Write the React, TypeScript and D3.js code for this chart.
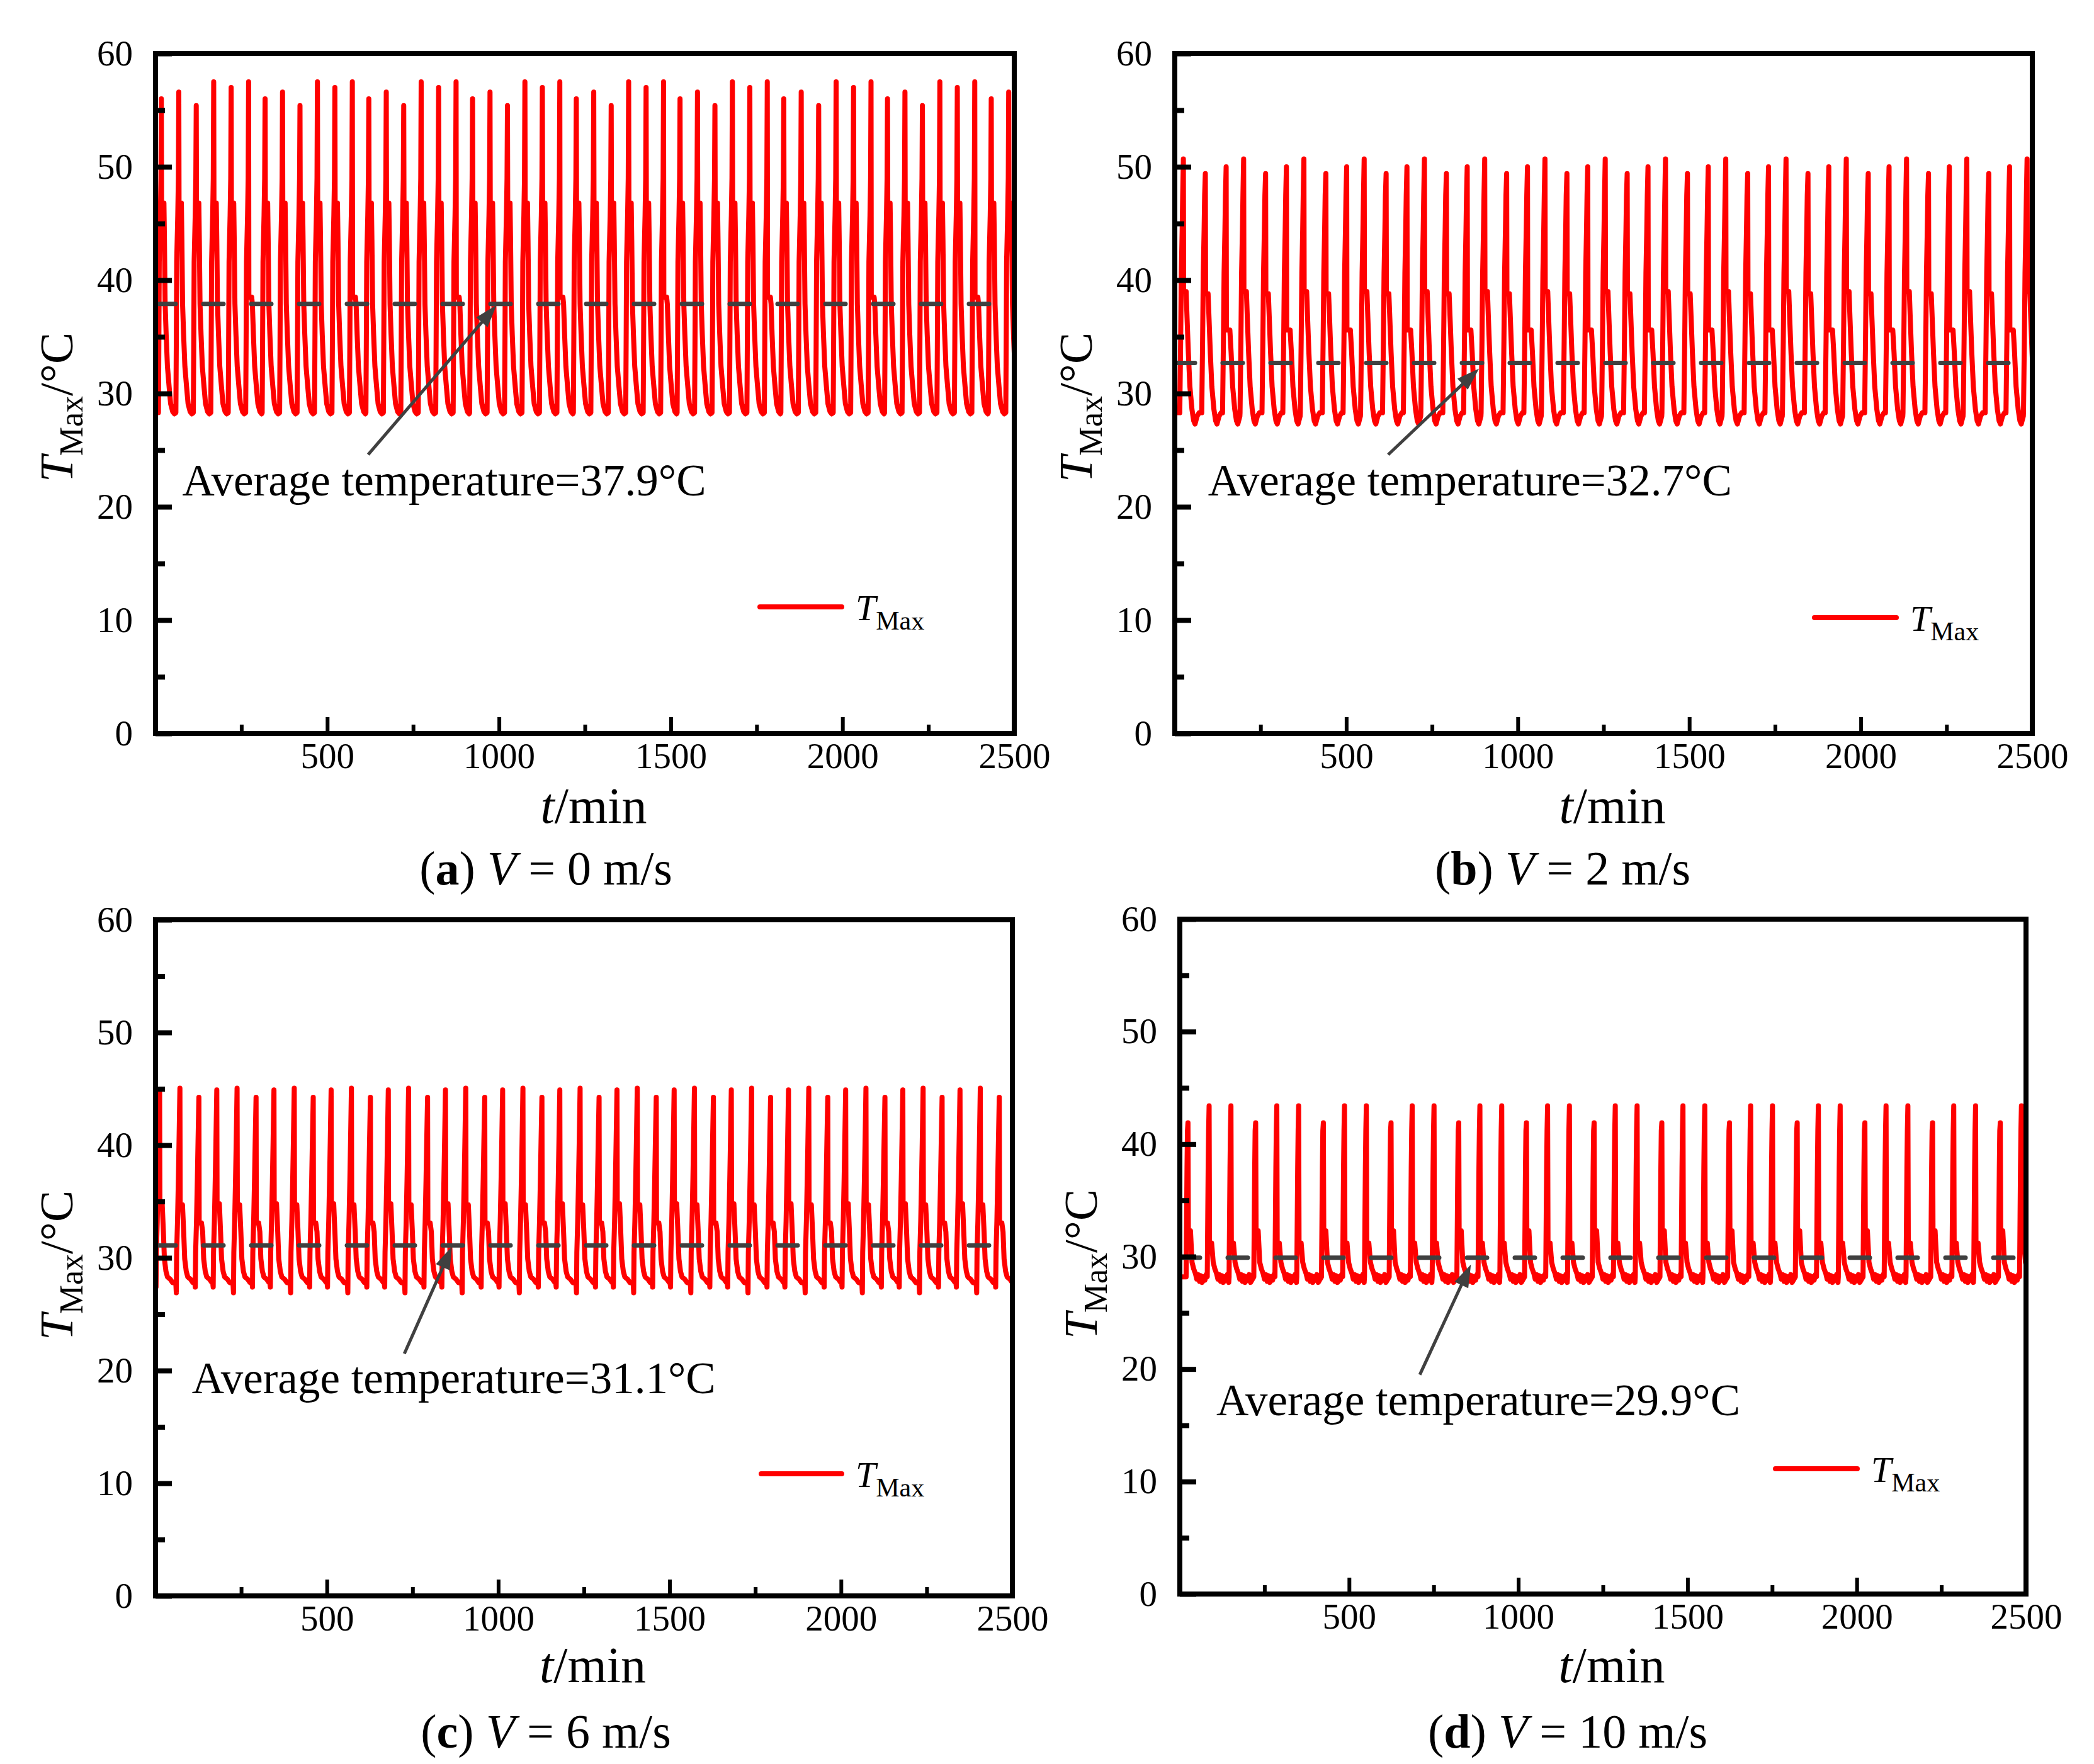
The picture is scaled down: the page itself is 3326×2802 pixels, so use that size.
import React, { useEffect, useRef } from "react";
import * as d3 from "d3";

const W = 3326;
const H = 2802;
const FONT = "'Liberation Serif', 'Times New Roman', serif";

// peak times (min) and peak / shoulder temperatures of every cycle
const timesA = [17, 67.8, 118.6, 169.4, 220.2, 271, 319, 369.8, 420.6, 471.4, 522.2, 573, 621, 671.8, 722.6, 773.4, 824.2, 875, 923, 973.8, 1024.6, 1075.4, 1126.2, 1177, 1225, 1275.8, 1326.6, 1377.4, 1428.2, 1479, 1527, 1577.8, 1628.6, 1679.4, 1730.2, 1781, 1829, 1879.8, 1930.6, 1981.4, 2032.2, 2083, 2131, 2181.8, 2232.6, 2283.4, 2334.2, 2385, 2433, 2483.8];
const peaksA = [
  56.0, 56.6, 55.4, 57.5, 57.0, 57.5, 56.0, 56.6, 55.4, 57.5, 57.0, 57.5,
  56.0, 56.6, 55.4, 57.5, 57.0, 57.5, 56.0, 56.6, 55.4, 57.5, 57.0, 57.5,
  56.0, 56.6, 55.4, 57.5, 57.0, 57.5, 56.0, 56.6, 55.4, 57.5, 57.0, 57.5,
  56.0, 56.6, 55.4, 57.5, 57.0, 57.5, 56.0, 56.6, 55.4, 57.5, 57.0, 57.5,
  56.0, 56.6,
];
const shouldersA = [
  46.8, 46.8, 46.8, 46.8, 46.8, 38.5, 46.8, 46.8, 46.8, 46.8, 46.8, 38.5,
  46.8, 46.8, 46.8, 46.8, 46.8, 38.5, 46.8, 46.8, 46.8, 46.8, 46.8, 38.5,
  46.8, 46.8, 46.8, 46.8, 46.8, 38.5, 46.8, 46.8, 46.8, 46.8, 46.8, 38.5,
  46.8, 46.8, 46.8, 46.8, 46.8, 38.5, 46.8, 46.8, 46.8, 46.8, 46.8, 38.5,
  46.8, 46.8,
];

const timesB = [25, 89, 149.7, 200.7, 264.7, 325.4, 376.4, 440.4, 501.1, 552.1, 616.1, 676.8, 727.8, 791.8, 852.5, 903.5, 967.5, 1028.2, 1079.2, 1143.2, 1203.9, 1254.9, 1318.9, 1379.6, 1430.6, 1494.6, 1555.3, 1606.3, 1670.3, 1731, 1782, 1846, 1906.7, 1957.7, 2021.7, 2082.4, 2133.4, 2197.4, 2258.1, 2309.1, 2373.1, 2433.8, 2484.8];
const peaksB = [
  50.7, 49.4, 50.0, 50.7, 49.4, 50.0, 50.7, 49.4, 50.0, 50.7, 49.4, 50.0,
  50.7, 49.4, 50.0, 50.7, 49.4, 50.0, 50.7, 49.4, 50.0, 50.7, 49.4, 50.0,
  50.7, 49.4, 50.0, 50.7, 49.4, 50.0, 50.7, 49.4, 50.0, 50.7, 49.4, 50.0,
  50.7, 49.4, 50.0, 50.7, 49.4, 50.0, 50.7,
];
const shouldersB = [
  39.0, 38.8, 35.6, 39.0, 38.8, 35.6, 39.0, 38.8, 35.6, 39.0, 38.8, 35.6,
  39.0, 38.8, 35.6, 39.0, 38.8, 35.6, 39.0, 38.8, 35.6, 39.0, 38.8, 35.6,
  39.0, 38.8, 35.6, 39.0, 38.8, 35.6, 39.0, 38.8, 35.6, 39.0, 38.8, 35.6,
  39.0, 38.8, 35.6, 39.0, 38.8, 35.6, 39.0,
];

const timesC = [12, 71.2, 126.6, 178.8, 238, 293.4, 345.6, 404.8, 460.2, 512.4, 571.6, 627, 679.2, 738.4, 793.8, 846, 905.2, 960.6, 1012.8, 1072, 1127.4, 1179.6, 1238.8, 1294.2, 1346.4, 1405.6, 1461, 1513.2, 1572.4, 1627.8, 1680, 1739.2, 1794.6, 1846.8, 1906, 1961.4, 2013.6, 2072.8, 2128.2, 2180.4, 2239.6, 2295, 2347.2, 2406.4, 2461.8];
const peaksC = [
  44.9, 45.05, 44.25, 44.9, 45.05, 44.25, 44.9, 45.05, 44.25, 44.9, 45.05, 44.25,
  44.9, 45.05, 44.25, 44.9, 45.05, 44.25, 44.9, 45.05, 44.25, 44.9, 45.05, 44.25,
  44.9, 45.05, 44.25, 44.9, 45.05, 44.25, 44.9, 45.05, 44.25, 44.9, 45.05, 44.25,
  44.9, 45.05, 44.25, 44.9, 45.05, 44.25, 44.9, 45.05, 44.25,
];
const shouldersC = [
  34.8, 34.7, 33.1, 34.8, 34.7, 33.1, 34.8, 34.7, 33.1, 34.8, 34.7, 33.1,
  34.8, 34.7, 33.1, 34.8, 34.7, 33.1, 34.8, 34.7, 33.1, 34.8, 34.7, 33.1,
  34.8, 34.7, 33.1, 34.8, 34.7, 33.1, 34.8, 34.7, 33.1, 34.8, 34.7, 33.1,
  34.8, 34.7, 33.1, 34.8, 34.7, 33.1, 34.8, 34.7, 33.1,
];
// lowest value just before each rise (panel c has a sharp dip every third cycle)
const dipsC = [
  27.4, 26.9, 27.4, 27.4, 26.9, 27.4, 27.4, 26.9, 27.4, 27.4, 26.9, 27.4,
  27.4, 26.9, 27.4, 27.4, 26.9, 27.4, 27.4, 26.9, 27.4, 27.4, 26.9, 27.4,
  27.4, 26.9, 27.4, 27.4, 26.9, 27.4, 27.4, 26.9, 27.4, 27.4, 26.9, 27.4,
  27.4, 26.9, 27.4, 27.4, 26.9, 27.4, 27.4, 26.9, 27.4,
];

const timesD = [24, 86.5, 151, 224, 286.5, 351, 424, 486.5, 551, 624, 686.5, 751, 824, 886.5, 951, 1024, 1086.5, 1151, 1224, 1286.5, 1351, 1424, 1486.5, 1551, 1624, 1686.5, 1751, 1824, 1886.5, 1951, 2024, 2086.5, 2151, 2224, 2286.5, 2351, 2424, 2486.5];
const peaksD = [
  41.9, 43.4, 43.4, 41.9, 43.4, 43.4, 41.9, 43.4, 43.4, 41.9, 43.4, 43.4,
  41.9, 43.4, 43.4, 41.9, 43.4, 43.4, 41.9, 43.4, 43.4, 41.9, 43.4, 43.4,
  41.9, 43.4, 43.4, 41.9, 43.4, 43.4, 41.9, 43.4, 43.4, 41.9, 43.4, 43.4,
  41.9, 43.4,
];
const shouldersD = [
  32.3, 31.2, 31.2, 32.3, 31.2, 31.2, 32.3, 31.2, 31.2, 32.3, 31.2, 31.2,
  32.3, 31.2, 31.2, 32.3, 31.2, 31.2, 32.3, 31.2, 31.2, 32.3, 31.2, 31.2,
  32.3, 31.2, 31.2, 32.3, 31.2, 31.2, 32.3, 31.2, 31.2, 32.3, 31.2, 31.2,
  32.3, 31.2,
];

// shape of one cycle: [minutes from the peak, temperature]
// "P" = peak of that cycle, "S" = shoulder after the peak, "D" = dip before the rise
type Pt = [number, number | "P" | "S" | "D"];
const shapeA: Pt[] = [[-8.5, 28.3], [-7.3, 34.3], [-6.1, 41.6], [-3, 45.7], [-1.2, 49], [0, "P"], [0.8, 45.8], [2, "S"], [7.5, "S"], [9, 43.5], [11, 37.9], [14, 35.2], [17.7, 32.4], [22.6, 30.6], [27, 29.1], [33, 28.4], [38, 28.2]];
const shapeB: Pt[] = [[-10.5, 28.3], [-8, 34.6], [-6, 40.6], [-3.5, 44.5], [-2, 47.5], [0, "P"], [0.8, 41], [2, "S"], [8, "S"], [10.8, 36.6], [14.5, 33.6], [19, 30.6], [25, 28.6], [30, 27.6], [34, 27.3], [40, 28.0], [46, 28.3]];
const shapeC: Pt[] = [[-12, 27.8], [-10.5, "D"], [-9.5, 30.5], [-7, 33.2], [-4.5, 36.9], [-2.5, 40.3], [0, "P"], [0.8, 38.8], [2, "S"], [7.5, "S"], [11, 32.3], [14, 29.9], [18.5, 28.8], [23, 28.3], [31, 28.1], [38, 27.8]];
const shapeD: Pt[] = [[-5.5, 28.2], [-4, 33.6], [-2.8, 37.9], [-1.5, 41.2], [0, "P"], [1.2, 34.5], [3, "S"], [7.4, "S"], [12, 29.5], [17, 28.9], [22, 28.5], [26, 28.0], [30, 28.4], [34, 27.8], [38, 28.3], [42, 27.7], [46, 28.2], [50, 27.9], [54, 28.4], [58, 27.7]];

const averages = [37.9, 32.7, 31.1, 29.9];
const speeds = ["0", "2", "6", "10"];
const letters = ["a", "b", "c", "d"];
const yTicks = [0, 10, 20, 30, 40, 50, 60];
const yMinor = [5, 15, 25, 35, 45, 55];
const xTicks = [500, 1000, 1500, 2000, 2500];
const xMinor = [250, 750, 1250, 1750, 2250];

const panels = [
  { left: 247, right: 1611, top: 85, bottom: 1165, times: timesA, peaks: peaksA, shoulders: shouldersA, dips: null, shape: shapeA,
    text: [78, 21.0], tip: [993, 37.8], tail: [619, 24.6], legend: [960, 1090, 879], caption: [867, 1405], xTitle: 1307, yTitle: 22 },
  { left: 1866, right: 3228, top: 85, bottom: 1165, times: timesB, peaks: peaksB, shoulders: shouldersB, dips: null, shape: shapeB,
    text: [97, 21.0], tip: [887, 32.2], tail: [622, 24.6], legend: [1016, 1146, 896], caption: [2482, 1405], xTitle: 1307, yTitle: 22 },
  { left: 247, right: 1608, top: 1461, bottom: 2535, times: timesC, peaks: peaksC, shoulders: shouldersC, dips: dipsC, shape: shapeC,
    text: [106, 18.0], tip: [865, 31.0], tail: [726, 21.5], legend: [962, 1090, 880], caption: [867, 2776], xTitle: 2672, yTitle: 12 },
  { left: 1874, right: 3218, top: 1460, bottom: 2532, times: timesD, peaks: peaksD, shoulders: shouldersD, dips: null, shape: shapeD,
    text: [108, 15.9], tip: [860, 29.3], tail: [709, 19.5], legend: [946, 1076, 873], caption: [2490, 2776], xTitle: 2672, yTitle: 12 },
];

function buildSeries(p: any): [number, number][] {
  const pts: [number, number][] = [];
  p.times.forEach((tp: number, i: number) => {
    const next = i + 1 < p.times.length ? p.times[i + 1] + p.shape[0][0] : Infinity;
    let after = false;
    p.shape.forEach(([dt, v]: Pt) => {
      const t = tp + dt;
      if (t >= next) return;
      let val: number;
      if (v === "P") { val = p.peaks[i]; after = true; }
      else if (v === "S") val = p.shoulders[i];
      else if (v === "D") val = p.dips[i];
      else val = after ? Math.min(v, p.shoulders[i]) : v;
      pts.push([t, val]);
    });
  });
  if (pts[0][0] > 0) pts.unshift([0, pts[0][1]]);
  return pts;
}

export default function App() {
  const svgRef = useRef<SVGSVGElement>(null);

  useEffect(() => {
    document.body.style.margin = "0";
    const svg = d3.select(svgRef.current);
    svg.selectAll("*").remove();
    svg.append("rect").attr("width", W).attr("height", H).attr("fill", "#fff");
    const defs = svg.append("defs");

    panels.forEach((p, pi) => {
      const x = d3.scaleLinear().domain([0, 2500]).range([p.left, p.right]);
      const y = d3.scaleLinear().domain([0, 60]).range([p.bottom, p.top]);
      const g = svg.append("g");
      const clipId = "clip" + pi;
      defs.append("clipPath").attr("id", clipId).append("rect")
        .attr("x", p.left).attr("y", p.top)
        .attr("width", p.right - p.left).attr("height", p.bottom - p.top);

      // temperature curve
      const line = d3.line<[number, number]>().x((d) => x(d[0])).y((d) => y(d[1]));
      g.append("path")
        .datum(buildSeries(p))
        .attr("clip-path", `url(#${clipId})`)
        .attr("d", line)
        .attr("fill", "none")
        .attr("stroke", "#ff0000")
        .attr("stroke-width", 8)
        .attr("stroke-linejoin", "round");

      // average line
      g.append("line")
        .attr("clip-path", `url(#${clipId})`)
        .attr("x1", x(0)).attr("x2", x(2500))
        .attr("y1", y(averages[pi])).attr("y2", y(averages[pi]))
        .attr("stroke", "#404040")
        .attr("stroke-width", 7)
        .attr("stroke-dasharray", "32 44")
        .attr("stroke-linecap", "round");

      // axes
      const styleAxis = (sel: any, w: number) => {
        sel.select(".domain").remove();
        sel.selectAll("line").attr("stroke", "#000").attr("stroke-width", w);
        sel.selectAll("text").attr("font-family", FONT).attr("font-size", 57).attr("fill", "#000");
      };
      g.append("g").attr("transform", `translate(${p.left},0)`)
        .call(d3.axisLeft(y).tickValues(yTicks).tickSize(-26).tickPadding(36).tickFormat(d3.format("d")))
        .call((s: any) => styleAxis(s, 8));
      g.append("g").attr("transform", `translate(${p.left},0)`)
        .call(d3.axisLeft(y).tickValues(yMinor).tickSize(-15).tickFormat(() => ""))
        .call((s: any) => styleAxis(s, 8));
      g.append("g").attr("transform", `translate(0,${p.bottom})`)
        .call(d3.axisBottom(x).tickValues(xTicks).tickSize(-26).tickPadding(15).tickFormat(d3.format("d")))
        .call((s: any) => styleAxis(s, 6));
      g.append("g").attr("transform", `translate(0,${p.bottom})`)
        .call(d3.axisBottom(x).tickValues(xMinor).tickSize(-14).tickFormat(() => ""))
        .call((s: any) => styleAxis(s, 6));

      g.append("rect")
        .attr("x", p.left).attr("y", p.top)
        .attr("width", p.right - p.left).attr("height", p.bottom - p.top)
        .attr("fill", "none").attr("stroke", "#000").attr("stroke-width", 8);

      // y title
      const yt = g.append("text")
        .attr("transform", `translate(${p.left - 132},${(p.top + p.bottom) / 2 + p.yTitle}) rotate(-90)`)
        .attr("text-anchor", "middle")
        .attr("font-family", FONT).attr("font-size", 75);
      yt.append("tspan").attr("font-style", "italic").text("T");
      yt.append("tspan").attr("font-size", 52).attr("dy", 16).text("Max");
      yt.append("tspan").attr("dy", -16).text("/°C");

      // x title
      const xt = g.append("text")
        .attr("x", (p.left + p.right) / 2 + 14).attr("y", p.xTitle)
        .attr("text-anchor", "middle")
        .attr("font-family", FONT).attr("font-size", 80);
      xt.append("tspan").attr("font-style", "italic").text("t");
      xt.append("tspan").text("/min");

      // caption
      const cap = g.append("text")
        .attr("x", p.caption[0]).attr("y", p.caption[1])
        .attr("text-anchor", "middle")
        .attr("font-family", FONT).attr("font-size", 76)
        .style("white-space", "pre");
      cap.append("tspan").text("(");
      cap.append("tspan").attr("font-weight", "bold").text(letters[pi]);
      cap.append("tspan").text(") ");
      cap.append("tspan").attr("font-style", "italic").text("V");
      cap.append("tspan").text(` = ${speeds[pi]} m/s`);

      // annotation
      g.append("text")
        .attr("x", x(p.text[0])).attr("y", y(p.text[1]))
        .attr("font-family", FONT).attr("font-size", 71)
        .text(`Average temperature=${averages[pi]}°C`);

      const tx = x(p.tail[0]), ty = y(p.tail[1]);
      const hx = x(p.tip[0]), hy = y(p.tip[1]);
      const len = Math.hypot(hx - tx, hy - ty);
      const ux = (hx - tx) / len, uy = (hy - ty) / len;
      const bx = hx - ux * 36, by = hy - uy * 36;
      g.append("line")
        .attr("x1", tx).attr("y1", ty).attr("x2", bx + ux * 4).attr("y2", by + uy * 4)
        .attr("stroke", "#404040").attr("stroke-width", 5);
      g.append("path")
        .attr("d", `M${hx},${hy}L${bx - uy * 12},${by + ux * 12}L${bx + uy * 12},${by - ux * 12}Z`)
        .attr("fill", "#404040");

      // legend
      const [lx1, lx2, ly] = p.legend;
      g.append("line")
        .attr("x1", p.left + lx1).attr("x2", p.left + lx2)
        .attr("y1", p.top + ly).attr("y2", p.top + ly)
        .attr("stroke", "#ff0000").attr("stroke-width", 8).attr("stroke-linecap", "round");
      const lt = g.append("text")
        .attr("x", p.left + lx2 + 22).attr("y", p.top + ly + 21)
        .attr("font-family", FONT).attr("font-size", 58);
      lt.append("tspan").attr("font-style", "italic").text("T");
      lt.append("tspan").attr("font-size", 42).attr("dy", 15).text("Max");
    });
  }, []);

  return <svg ref={svgRef} width={W} height={H} style={{ display: "block" }} />;
}
